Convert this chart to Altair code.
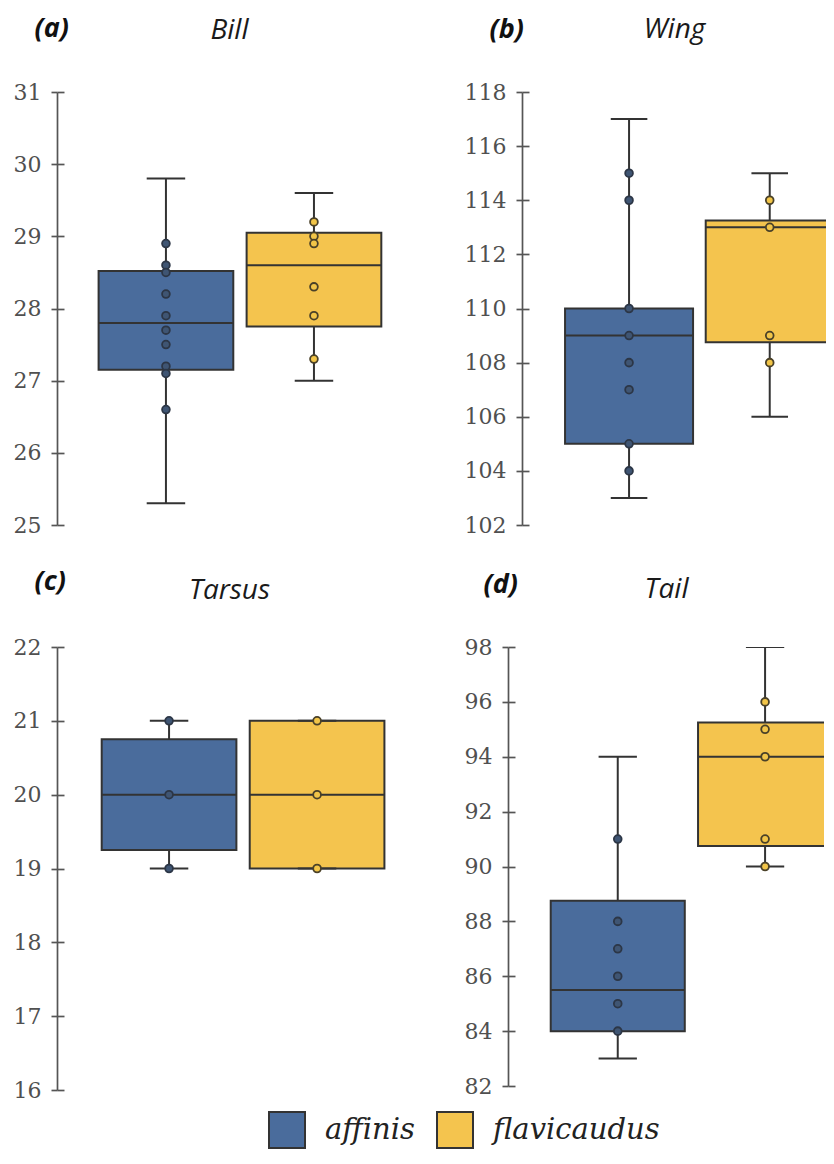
import altair as alt
import pandas as pd

# ---------------- data ----------------
species = ["affinis", "flavicaudus"]

letters = ["(a)", "(b)", "(c)", "(d)"]
names = ["Bill", "Wing", "Tarsus", "Tail"]

bill_ticks = [25, 26, 27, 28, 29, 30, 31]
wing_ticks = [102, 104, 106, 108, 110, 112, 114, 116, 118]
tarsus_ticks = [16, 17, 18, 19, 20, 21, 22]
tail_ticks = [82, 84, 86, 88, 90, 92, 94, 96, 98]

# box summaries: [whisker low, q1, median, q3, whisker high]
bill_affinis_box = [25.3, 27.15, 27.8, 28.52, 29.8]
bill_flavicaudus_box = [27.0, 27.75, 28.6, 29.05, 29.6]
wing_affinis_box = [103, 105, 109, 110, 117]
wing_flavicaudus_box = [106, 108.75, 113, 113.25, 115]
tarsus_affinis_box = [19, 19.25, 20, 20.75, 21]
tarsus_flavicaudus_box = [19, 19, 20, 21, 21]
tail_affinis_box = [83, 84, 85.5, 88.75, 94]
tail_flavicaudus_box = [90, 90.75, 94, 95.25, 98]

# individual points
bill_affinis_pts = [28.9, 28.6, 28.5, 28.2, 27.9, 27.7, 27.5, 27.2, 27.1, 26.6]
bill_flavicaudus_pts = [29.2, 29.0, 28.9, 28.3, 27.9, 27.3]
wing_affinis_pts = [115, 114, 110, 109, 108, 107, 105, 104]
wing_flavicaudus_pts = [114, 113, 109, 108]
tarsus_affinis_pts = [21, 20, 19]
tarsus_flavicaudus_pts = [21, 20, 19]
tail_affinis_pts = [91, 88, 87, 86, 85, 84]
tail_flavicaudus_pts = [96, 95, 94, 91, 90]

# ---------------- styles ----------------
box_colors = ["#4a6c9c", "#f4c44e"]
point_fills = ["#3f5573", "#f2c548"]
point_strokes = ["#2c3646", "#4a4128"]
INK = "#333333"
AXIS_GRAY = "#555555"
BOX_HALF = 0.455
CAP_HALF = 0.13


def panel(letter, name, ticks, boxes, pts, width, height, xdom,
          letter_dx, letter_dy, name_dy):
    brows = []
    for i, (sp, b) in enumerate(zip(species, boxes)):
        brows.append(dict(species=sp, pos=i, lo=b[0], q1=b[1], med=b[2],
                          q3=b[3], hi=b[4]))
    bdf = pd.DataFrame(brows)
    bdf["left"] = bdf["pos"] - BOX_HALF
    bdf["right"] = bdf["pos"] + BOX_HALF
    bdf["capl"] = bdf["pos"] - CAP_HALF
    bdf["capr"] = bdf["pos"] + CAP_HALF

    prows = []
    for i, (sp, vals) in enumerate(zip(species, pts)):
        for v in vals:
            prows.append(dict(species=sp, pos=i, value=v,
                              pfill=point_fills[i], pstroke=point_strokes[i]))
    pdf = pd.DataFrame(prows)

    xs = alt.Scale(domain=xdom, nice=False, zero=False)
    ys = alt.Scale(domain=[ticks[0], ticks[-1]], nice=False, zero=False)

    xax = alt.Axis(orient="top", title=name, domain=False, ticks=False,
                   labels=False, grid=False, titleFont="Open Sans",
                   titleFontStyle="italic", titleFontWeight="normal",
                   titleFontSize=28, titleColor="#1a1a1a",
                   titleBaseline="alphabetic", titleY=name_dy)

    yax_main = alt.Axis(orient="left", values=ticks, grid=False,
                        domain=True, domainColor=AXIS_GRAY, domainWidth=1.7,
                        ticks=True, tickSize=6, tickColor=AXIS_GRAY,
                        tickWidth=1.7, labelPadding=10,
                        labelFont="DejaVu Serif", labelFontSize=22,
                        labelColor="#505050",
                        title=letter, titleAngle=0, titleAlign="left",
                        titleBaseline="alphabetic", titleX=letter_dx,
                        titleY=letter_dy, titleFont="Open Sans",
                        titleFontStyle="italic", titleFontWeight="bold",
                        titleFontSize=27, titleColor="#111111")
    yax_inner = alt.Axis(orient="left", values=ticks, grid=False,
                         domain=False, labels=False, ticks=True, tickSize=7,
                         tickColor=AXIS_GRAY, tickWidth=1.7, offset=-7,
                         title=None)

    leg = alt.Legend(title=None, orient="none", legendX=211, legendY=1019,
                     direction="horizontal", symbolType="square",
                     symbolSize=1296, symbolStrokeColor=INK,
                     symbolStrokeWidth=2, symbolOpacity=1,
                     labelFont="DejaVu Serif", labelFontStyle="italic",
                     labelFontSize=29, labelColor="#222222", labelOffset=19,
                     labelLimit=0, columnPadding=18, padding=0)

    base_b = alt.Chart(bdf)

    whisk_lo = base_b.mark_rule(color=INK, strokeWidth=2, clip=True).encode(
        x=alt.X("pos:Q", scale=xs, axis=xax),
        y=alt.Y("lo:Q", scale=ys, axis=yax_inner),
        y2="q1:Q")
    whisk_hi = base_b.mark_rule(color=INK, strokeWidth=2, clip=True).encode(
        x=alt.X("pos:Q", scale=xs, axis=xax),
        y=alt.Y("q3:Q", scale=ys, axis=None),
        y2="hi:Q")
    box = base_b.mark_rect(stroke=INK, strokeWidth=2, clip=True).encode(
        x=alt.X("left:Q", scale=xs, axis=xax),
        x2="right:Q",
        y=alt.Y("q1:Q", scale=ys, axis=yax_main),
        y2="q3:Q",
        color=alt.Color("species:N",
                        scale=alt.Scale(domain=species, range=box_colors),
                        legend=leg))
    median = base_b.mark_rule(color=INK, strokeWidth=2, clip=True).encode(
        x=alt.X("left:Q", scale=xs, axis=xax),
        x2="right:Q",
        y=alt.Y("med:Q", scale=ys, axis=None))
    cap_lo = base_b.mark_rule(color=INK, strokeWidth=2, clip=True).encode(
        x=alt.X("capl:Q", scale=xs, axis=xax),
        x2="capr:Q",
        y=alt.Y("lo:Q", scale=ys, axis=None))
    cap_hi = base_b.mark_rule(color=INK, strokeWidth=2, clip=True).encode(
        x=alt.X("capl:Q", scale=xs, axis=xax),
        x2="capr:Q",
        y=alt.Y("hi:Q", scale=ys, axis=None))
    points = alt.Chart(pdf).mark_circle(size=60, strokeWidth=1.8, opacity=1,
                                         clip=True).encode(
        x=alt.X("pos:Q", scale=xs, axis=xax),
        y=alt.Y("value:Q", scale=ys, axis=None),
        fill=alt.Fill("pfill:N", scale=None),
        stroke=alt.Stroke("pstroke:N", scale=None))

    return alt.layer(whisk_lo, whisk_hi, box, median, cap_lo, cap_hi,
                     points).resolve_axis(y="independent").properties(
        width=width, height=height)


pa = panel(letters[0], names[0], bill_ticks,
           [bill_affinis_box, bill_flavicaudus_box],
           [bill_affinis_pts, bill_flavicaudus_pts],
           344, 433, [-0.736, 1.588], -23, -56, -54)
pb = panel(letters[1], names[1], wing_ticks,
           [wing_affinis_box, wing_flavicaudus_box],
           [wing_affinis_pts, wing_flavicaudus_pts],
           304, 433, [-0.761, 1.40], -33, -55, -55)
pc = panel(letters[2], names[2], tarsus_ticks,
           [tarsus_affinis_box, tarsus_flavicaudus_box],
           [tarsus_affinis_pts, tarsus_flavicaudus_pts],
           344, 443, [-0.757, 1.567], -23, -58, -49)
pd_ = panel(letters[3], names[3], tail_ticks,
            [tail_affinis_box, tail_flavicaudus_box],
            [tail_affinis_pts, tail_flavicaudus_pts],
            316, 439, [-0.745, 1.40], -25, -55, -50)

row1 = alt.hconcat(pa, pb, spacing=63)
row2 = alt.hconcat(pc, pd_, spacing=63)

chart = alt.vconcat(row1, row2, spacing=31).properties(
    padding={"left": 5, "top": 6, "right": 0, "bottom": 0}
).resolve_scale(color="shared").configure_view(stroke=None)

chart.save("out.html", embed_options={"renderer": "svg", "actions": False})
